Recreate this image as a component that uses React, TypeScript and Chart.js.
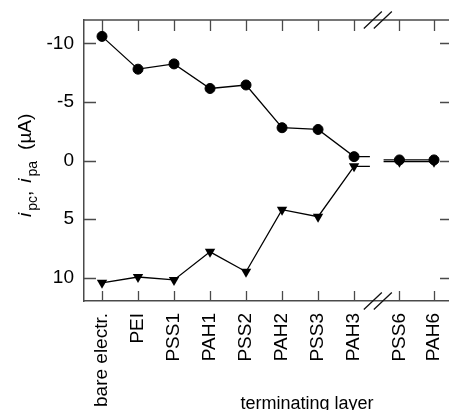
import React, { useEffect, useRef } from 'react';
import { Chart, registerables } from 'chart.js';

Chart.register(...registerables);

// ---- data ----
const CATEGORIES = ['bare electr.', 'PEI', 'PSS1', 'PAH1', 'PSS2', 'PAH2', 'PSS3', 'PAH3', 'PSS6', 'PAH6'];
const POSITIONS = [0, 1, 2, 3, 4, 5, 6, 7, 8.26, 9.22];
const IPC = [-10.6, -7.8, -8.25, -6.15, -6.45, -2.8, -2.65, -0.33, -0.05, -0.05];
const IPA = [10.45, 9.95, 10.2, 7.8, 9.5, 4.2, 4.8, 0.5, 0.1, 0.1];
const Y_MIN = -12;
const Y_MAX = 12;
const Y_STEP = 5;
const X_MIN = -0.5;
const X_MAX = 9.72;
const BREAK_AFTER = 7; // index of the last point before the axis break
const BREAK_STUB_LEFT = 7.44;
const BREAK_MARK = 7.66;
const BREAK_STUB_RIGHT = 7.82;

const FONT = "'Liberation Sans', Arial, Helvetica, sans-serif";
const AXIS_COLOR = '#4a4a4a';
const CANVAS_W = 458;
const CANVAS_H = 410;

type Pt = { x: number; y: number | null; stub?: boolean };

function buildSeries(values: number[]): Pt[] {
  const pts: Pt[] = [];
  values.forEach((v, i) => {
    pts.push({ x: POSITIONS[i], y: v });
    if (i === BREAK_AFTER && i + 1 < values.length) {
      pts.push({ x: BREAK_STUB_LEFT, y: v, stub: true });
      pts.push({ x: BREAK_MARK, y: null, stub: true });
      pts.push({ x: BREAK_STUB_RIGHT, y: values[i + 1], stub: true });
    }
  });
  return pts;
}

const framePlugin = {
  id: 'frameAndTitles',
  afterDraw(chart: any) {
    const { ctx, chartArea: a, scales } = chart;
    const x = scales.x;
    const y = scales.y;
    ctx.save();
    // top and right frame
    ctx.strokeStyle = AXIS_COLOR;
    ctx.lineWidth = 1.5;
    ctx.beginPath();
    ctx.moveTo(a.left, a.top);
    ctx.lineTo(a.right, a.top);
    ctx.lineTo(a.right, a.bottom);
    ctx.stroke();
    // inward ticks
    ctx.lineWidth = 1.3;
    ctx.beginPath();
    x.ticks.forEach((t: any) => {
      const px = Math.round(x.getPixelForValue(t.value)) + 0.5;
      ctx.moveTo(px, a.bottom);
      ctx.lineTo(px, a.bottom - 10);
      ctx.moveTo(px, a.top);
      ctx.lineTo(px, a.top + 11);
    });
    y.ticks.forEach((t: any) => {
      const py = Math.round(y.getPixelForValue(t.value)) + 0.5;
      ctx.moveTo(a.left, py);
      ctx.lineTo(a.left + 12, py);
      ctx.moveTo(a.right, py);
      ctx.lineTo(a.right - 12, py);
    });
    ctx.stroke();
    // axis break marks
    const bx = x.getPixelForValue(BREAK_MARK);
    ctx.strokeStyle = '#111';
    ctx.lineWidth = 1.3;
    ctx.beginPath();
    [a.top, a.bottom].forEach((yy: number) => {
      [-5, 5].forEach((off) => {
        ctx.moveTo(bx + off - 9, yy + 8.5);
        ctx.lineTo(bx + off + 9, yy - 8.5);
      });
    });
    ctx.stroke();

    // x title
    ctx.fillStyle = '#000';
    ctx.font = `18px ${FONT}`;
    ctx.textAlign = 'center';
    ctx.textBaseline = 'alphabetic';
    ctx.fillText('terminating layer', 307, 409);

    // y title with italic i and subscripts, rotated
    ctx.translate(31, 218);
    ctx.rotate(-Math.PI / 2);
    ctx.textAlign = 'left';
    const main = `19px ${FONT}`;
    const ital = `italic 19px ${FONT}`;
    const sub = `14px ${FONT}`;
    const pieces: Array<[string, string, number, number]> = [
      ['i', ital, 0, 2],
      ['pc', sub, 6, 0],
      [',', main, 0, 8],
      ['i', ital, 0, 2],
      ['pa', sub, 6, 11],
      ['(\u00b5A)', main, 0, 0],
    ];
    let u = 1;
    pieces.forEach(([txt, f, dv, gap]) => {
      ctx.font = f;
      ctx.fillText(txt, u, dv);
      u += ctx.measureText(txt).width + gap;
    });
    ctx.restore();
  },
};

export default function App() {
  const ref = useRef<HTMLCanvasElement | null>(null);

  useEffect(() => {
    document.body.style.margin = '0';
    const canvas = ref.current;
    if (!canvas) return;
    const chart = new Chart(canvas, {
      type: 'line',
      data: {
        datasets: [
          {
            label: 'ipc',
            data: buildSeries(IPC) as any,
            borderColor: '#000',
            borderWidth: 1.3,
            backgroundColor: '#000',
            pointBackgroundColor: '#000',
            pointBorderColor: '#000',
            pointBorderWidth: 1,
            pointStyle: 'circle',
            pointRadius: (c: any) => (c.raw && c.raw.stub ? 0 : 5),
            tension: 0,
            spanGaps: false,
          },
          {
            label: 'ipa',
            data: buildSeries(IPA) as any,
            borderColor: '#000',
            borderWidth: 1.3,
            backgroundColor: '#000',
            pointBackgroundColor: '#000',
            pointBorderColor: '#000',
            pointBorderWidth: 0,
            pointStyle: 'triangle',
            pointRotation: 180,
            pointRadius: (c: any) => (c.raw && c.raw.stub ? 0 : 6),
            tension: 0,
            spanGaps: false,
          },
        ],
      },
      options: {
        responsive: false,
        animation: false,
        events: [],
        layout: { padding: { top: 20, left: 0, right: CANVAS_W - 456, bottom: 0 } },
        plugins: { legend: { display: false }, tooltip: { enabled: false }, title: { display: false } },
        scales: {
          x: {
            type: 'linear',
            min: X_MIN,
            max: X_MAX,
            afterBuildTicks: (s: any) => {
              s.ticks = POSITIONS.map((v) => ({ value: v }));
            },
            afterFit: (s: any) => {
              s.height = CANVAS_H - 301;
              s.paddingLeft = 0;
              s.paddingRight = 0;
            },
            grid: { display: false, drawTicks: false },
            border: { display: true, color: AXIS_COLOR, width: 1.5 },
            ticks: {
              autoSkip: false,
              minRotation: 90,
              maxRotation: 90,
              padding: 12,
              color: '#000',
              font: { family: FONT, size: 19 },
              callback: (_v: any, i: number) => CATEGORIES[i],
            },
          },
          y: {
            type: 'linear',
            min: Y_MIN,
            max: Y_MAX,
            reverse: true,
            afterFit: (s: any) => {
              s.width = 84;
              s.paddingTop = 0;
              s.paddingBottom = 0;
            },
            grid: { display: false, drawTicks: false },
            border: { display: true, color: AXIS_COLOR, width: 1.5 },
            ticks: {
              stepSize: Y_STEP,
              includeBounds: false,
              padding: 10,
              color: '#000',
              font: { family: FONT, size: 19 },
            },
          },
        },
      },
      plugins: [framePlugin],
    });
    return () => chart.destroy();
  }, []);

  return (
    <div style={{ width: 449, height: 410, overflow: 'hidden', background: '#fff' }}>
      <canvas ref={ref} width={CANVAS_W} height={CANVAS_H} style={{ display: 'block' }} />
    </div>
  );
}
